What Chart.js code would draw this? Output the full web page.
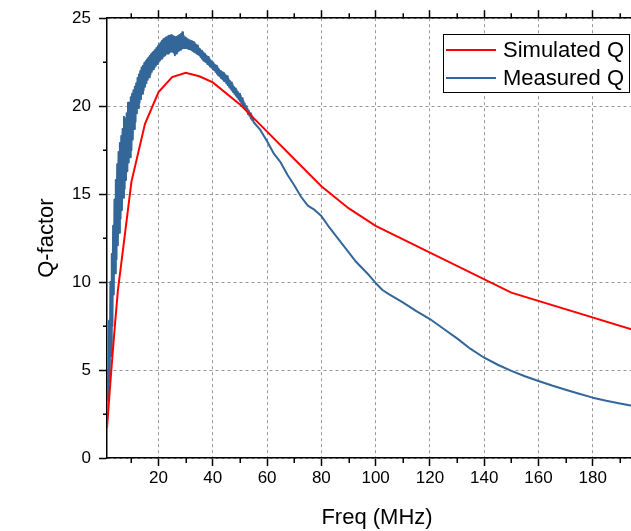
<!DOCTYPE html>
<html>
<head>
<meta charset="utf-8">
<script src="https://cdn.jsdelivr.net/npm/chart.js@4"></script>
<style>
  html, body { margin: 0; padding: 0; overflow: hidden; background: #fff; }
  canvas { display: block; }
</style>
</head>
<body>
<canvas id="chart" width="660" height="531"></canvas>
<script>
// the original plot runs to 200 MHz and is cropped at the right edge
const xMin = 1
const xMax = 200
const xTicks = [20, 40, 60, 80, 100, 120, 140, 160, 180]
const xMinor = [10, 30, 50, 70, 90, 110, 130, 150, 170, 190]
const yTicks = [0, 5, 10, 15, 20, 25]
const yMinor = [2.5, 7.5, 12.5, 17.5, 22.5]

// simulated Q (MHz / Q)
const simFreq = [1, 2, 3, 4, 5, 10, 15, 20, 25, 30, 35, 40, 50, 60, 70, 80, 90, 100, 150, 200]
const simQ = [1.7, 3.8, 5.8, 7.7, 9.5, 15.7, 19.0, 20.8, 21.65, 21.9, 21.7, 21.35, 20.1, 18.55, 17.0, 15.45, 14.2, 13.2, 9.4, 7.05]

// measured Q, noisy below ~55 MHz (one row per MHz there)
const measFreq = [
  1, 1.25, 1.5, 1.75, 2, 2.25, 2.5, 2.75, 3, 3.25, 3.5, 3.75,
  4, 4.25, 4.5, 4.75, 5, 5.25, 5.5, 5.75, 6, 6.25, 6.5, 6.75,
  7, 7.25, 7.5, 7.75, 8, 8.25, 8.5, 8.75, 9, 9.25, 9.5, 9.75,
  10, 10.25, 10.5, 10.75, 11, 11.25, 11.5, 11.75, 12, 12.25, 12.5, 12.75,
  13, 13.25, 13.5, 13.75, 14, 14.25, 14.5, 14.75, 15, 15.25, 15.5, 15.75,
  16, 16.25, 16.5, 16.75, 17, 17.25, 17.5, 17.75, 18, 18.25, 18.5, 18.75,
  19, 19.25, 19.5, 19.75, 20, 20.25, 20.5, 20.75, 21, 21.25, 21.5, 21.75,
  22, 22.25, 22.5, 22.75, 23, 23.25, 23.5, 23.75, 24, 24.25, 24.5, 24.75,
  25, 25.25, 25.5, 25.75, 26, 26.25, 26.5, 26.75, 27, 27.25, 27.5, 27.75,
  28, 28.25, 28.5, 28.75, 29, 29.25, 29.5, 29.75, 30, 30.25, 30.5, 30.75,
  31, 31.25, 31.5, 31.75, 32, 32.25, 32.5, 32.75, 33, 33.25, 33.5, 33.75,
  34, 34.25, 34.5, 34.75, 35, 35.25, 35.5, 35.75, 36, 36.25, 36.5, 36.75,
  37, 37.25, 37.5, 37.75, 38, 38.25, 38.5, 38.75, 39, 39.25, 39.5, 39.75,
  40, 40.25, 40.5, 40.75, 41, 41.25, 41.5, 41.75, 42, 42.25, 42.5, 42.75,
  43, 43.25, 43.5, 43.75, 44, 44.25, 44.5, 44.75, 45, 45.25, 45.5, 45.75,
  46, 46.25, 46.5, 46.75, 47, 47.25, 47.5, 47.75, 48, 48.25, 48.5, 48.75,
  49, 49.25, 49.5, 49.75, 50, 50.25, 50.5, 50.75, 51, 51.25, 51.5, 51.75,
  52, 52.25, 52.5, 52.75, 53, 53.25, 53.5, 53.75, 54, 54.25, 54.5, 54.75,
  55,
  57.5, 60, 62.5, 65, 67.5, 70, 72.5, 75, 77.5, 80,
  82.5, 85, 87.5, 90, 92.5, 95, 97.5, 100, 102.5, 105,
  110, 115, 120, 125, 130, 135, 140, 145, 150, 155,
  160, 165, 170, 175, 180, 185, 190, 195, 200
]
const measQ = [
  3.3, 5.0, 3.3, 7.8, 4.3, 10.0, 5.8, 11.6, 7.5, 13.2, 9.3, 14.7,
  10.5, 15.8, 11.3, 16.7, 12.1, 17.4, 12.8, 17.9, 13.6, 18.3, 14.1, 18.7,
  14.8, 19.4, 15.3, 19.3, 15.8, 19.6, 16.3, 20.2, 16.8, 20.2, 17.1, 20.5,
  17.5, 20.7, 18.1, 20.9, 18.7, 21.1, 19.1, 21.3, 19.6, 21.6, 19.9, 21.8,
  20.2, 22.0, 20.4, 22.2, 20.7, 22.3, 20.9, 22.45, 21.1, 22.55, 21.3, 22.65,
  21.5, 22.75, 21.65, 22.85, 21.8, 22.95, 21.95, 23.05, 22.1, 23.1, 22.2, 23.2,
  22.3, 23.3, 22.4, 23.4, 22.5, 23.5, 22.6, 23.6, 22.7, 23.7, 22.75, 23.8,
  22.85, 23.85, 22.9, 23.9, 23.0, 23.95, 23.0, 24.0, 23.05, 24.0, 23.1, 24.05,
  23.1, 24.0, 23.05, 23.95, 22.9, 23.9, 23.0, 23.95, 23.1, 24.0, 23.15, 24.05,
  23.2, 24.1, 23.25, 24.2, 23.3, 24.0, 23.3, 23.9, 23.3, 23.85, 23.3, 23.8,
  23.25, 23.75, 23.25, 23.7, 23.2, 23.7, 23.15, 23.65, 23.1, 23.6, 23.05, 23.5,
  23.0, 23.45, 22.95, 23.3, 22.9, 23.25, 22.8, 23.15, 22.7, 23.1, 22.6, 23.0,
  22.55, 22.95, 22.5, 22.85, 22.4, 22.8, 22.35, 22.7, 22.25, 22.6, 22.2, 22.5,
  22.1, 22.45, 22.05, 22.35, 21.95, 22.3, 21.85, 22.2, 21.75, 22.1, 21.7, 22.0,
  21.6, 21.95, 21.55, 21.9, 21.45, 21.85, 21.4, 21.75, 21.3, 21.7, 21.2, 21.55,
  21.1, 21.45, 21.0, 21.35, 20.9, 21.25, 20.8, 21.1, 20.7, 21.0, 20.6, 20.9,
  20.5, 20.8, 20.4, 20.7, 20.3, 20.6, 20.15, 20.45, 20.0, 20.3, 19.9, 20.15,
  19.8, 20.0, 19.7, 19.85, 19.55, 19.75, 19.45, 19.6, 19.3, 19.5, 19.2, 19.35,
  19.1,
  18.65, 18.0, 17.3, 16.8, 16.1, 15.5, 14.85, 14.35, 14.1, 13.75,
  13.2, 12.7, 12.2, 11.7, 11.2, 10.8, 10.4, 9.95, 9.55, 9.3,
  8.85, 8.35, 7.9, 7.35, 6.8, 6.2, 5.7, 5.3, 4.95, 4.65,
  4.38, 4.12, 3.88, 3.65, 3.43, 3.25, 3.1, 2.95, 2.85
]

const family = '"Liberation Sans", Arial, sans-serif'

const toPoints = (xs, ys) => xs.map((x, i) => ({ x: x, y: ys[i] }))
const fixTicks = list => scale => { scale.ticks = list.map(v => ({ value: v })) }

// short minor ticks, outside the frame like the major ones
const minorTicks = {
  id: 'minorTicks',
  afterDraw (chart) {
    const { ctx, scales } = chart
    ctx.save()
    ctx.strokeStyle = '#000'
    ctx.lineWidth = 1.5
    ctx.beginPath()
    xMinor.forEach(v => {
      const px = Math.round(scales.x.getPixelForValue(v)) + 0.25
      ctx.moveTo(px, scales.x.top)
      ctx.lineTo(px, scales.x.top + 5)
      ctx.moveTo(px, scales.x2.bottom)
      ctx.lineTo(px, scales.x2.bottom - 5)
    })
    yMinor.forEach(v => {
      const py = Math.round(scales.y.getPixelForValue(v)) + 0.25
      ctx.moveTo(scales.y.right, py)
      ctx.lineTo(scales.y.right - 4, py)
    })
    ctx.stroke()
    ctx.restore()
  }
}

// boxed legend in the top right corner of the plot
const boxLegend = {
  id: 'boxLegend',
  afterDraw (chart) {
    const ctx = chart.ctx
    ctx.save()
    ctx.fillStyle = '#fff'
    ctx.fillRect(443, 34, 187, 59)
    ctx.strokeStyle = '#000'
    ctx.lineWidth = 1
    ctx.strokeRect(443.5, 34.5, 186, 58)
    chart.data.datasets.forEach((ds, i) => {
      const yy = 50 + i * 28
      ctx.strokeStyle = ds.borderColor
      ctx.lineWidth = 2
      ctx.beginPath()
      ctx.moveTo(446, yy)
      ctx.lineTo(496, yy)
      ctx.stroke()
      ctx.fillStyle = '#000'
      ctx.font = '22px ' + family
      ctx.textBaseline = 'middle'
      ctx.fillText(ds.label, 503, yy + 1)
    })
    ctx.restore()
  }
}

const gridStyle = { color: '#999', lineWidth: 1, tickLength: 8, tickColor: '#000', tickWidth: 1.5, tickBorderDash: [] }

new Chart(document.getElementById('chart'), {
  type: 'line',
  data: {
    datasets: [
      { label: 'Simulated Q', data: toPoints(simFreq, simQ), borderColor: '#ff0000', borderWidth: 2, pointRadius: 0, tension: 0 },
      { label: 'Measured Q', data: toPoints(measFreq, measQ), borderColor: '#336699', borderWidth: 2, pointRadius: 0, tension: 0, borderJoinStyle: 'round' }
    ]
  },
  options: {
    responsive: false,
    animation: false,
    layout: { padding: { left: 0, right: 13, top: 0, bottom: 0 } },
    plugins: { legend: { display: false }, tooltip: { enabled: false } },
    scales: {
      x: {
        type: 'linear',
        position: 'bottom',
        min: xMin,
        max: xMax,
        afterBuildTicks: fixTicks(xTicks),
        afterFit: s => { s.height = 73 },
        grid: gridStyle,
        border: { display: true, color: '#000', width: 1.5, dash: [3, 3] },
        ticks: { color: '#000', font: { family: family, size: 17 }, padding: 2, maxRotation: 0, autoSkip: false },
        title: { display: true, text: 'Freq (MHz)', color: '#000', font: { family: family, size: 22 }, padding: { top: 1, bottom: 0 } }
      },
      x2: {
        type: 'linear',
        position: 'top',
        min: xMin,
        max: xMax,
        afterBuildTicks: fixTicks(xTicks),
        afterFit: s => { s.height = 18 },
        grid: Object.assign({}, gridStyle, { drawOnChartArea: false }),
        border: { display: true, color: '#000', width: 1.5 },
        ticks: { display: false }
      },
      y: {
        type: 'linear',
        position: 'left',
        min: 0,
        max: 25,
        afterBuildTicks: fixTicks(yTicks),
        afterFit: s => { s.width = 107 },
        grid: gridStyle,
        border: { display: true, color: '#000', width: 1.5, dash: [3, 3] },
        ticks: { color: '#000', font: { family: family, size: 17 }, padding: 8 },
        title: { display: true, text: 'Q-factor', color: '#000', font: { family: family, size: 22 }, padding: { top: 34, bottom: 0 } }
      }
    }
  },
  plugins: [minorTicks, boxLegend]
})
</script>
</body>
</html>
